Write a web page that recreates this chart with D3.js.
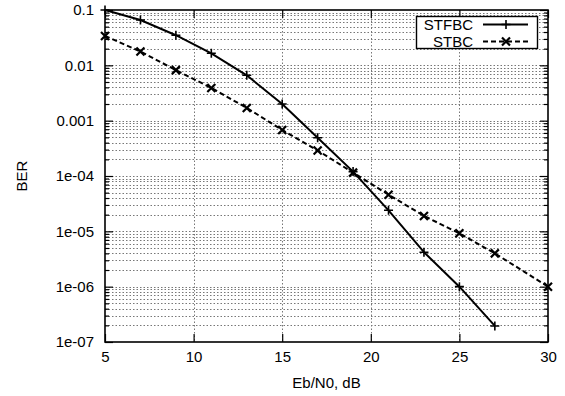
<!DOCTYPE html>
<html>
<head>
<meta charset="utf-8">
<script src="https://cdn.jsdelivr.net/npm/d3@7"></script>
<style>
  body { margin: 0; background: #fff; }
  svg { display: block; font-family: "Liberation Sans", Arial, sans-serif; }
</style>
</head>
<body>
<div id="chart"></div>
<script>
// données
const ebn0 = [5, 7, 9, 11, 13, 15, 17, 19, 21, 23, 25, 27];
const berSTFBC = [0.1, 0.066, 0.035, 0.0165, 0.0066, 0.002, 4.9e-4, 1.2e-4, 2.4e-5, 4.2e-6, 1.0e-6, 1.95e-7];
const ebn0STBC = [5, 7, 9, 11, 13, 15, 17, 19, 21, 23, 25, 27, 30];
const berSTBC = [0.034, 0.0178, 0.0082, 0.0039, 0.0017, 6.8e-4, 2.9e-4, 1.15e-4, 4.6e-5, 1.9e-5, 9.2e-6, 4.0e-6, 1.0e-6];

const xTicks = [5, 10, 15, 20, 25, 30];
const yTicks = [1e-7, 1e-6, 1e-5, 1e-4, 1e-3, 1e-2, 1e-1];
const yTickLabels = ["1e-07", "1e-06", "1e-05", "1e-04", "0.001", "0.01", "0.1"];
const seriesNames = ["STFBC", "STBC"];

//---------------------------------------------------------------------------------------

const width = 565;
const height = 396;
const margin = {top: 10, right: 17, bottom: 54, left: 105};

const svg = d3.select("#chart")
    .append("svg")
    .attr("width", width)
    .attr("height", height);

const plotW = width - margin.left - margin.right;
const plotH = height - margin.top - margin.bottom;

const g = svg.append("g")
    .attr("transform", `translate(${margin.left}, ${margin.top})`);

// échelles
const scaleX = d3.scaleLinear().domain([5, 30]).range([0, plotW]);
const scaleY = d3.scaleLog().domain([1e-7, 0.1]).range([plotH, 0]);

// ticks mineurs de l'axe log
const minorY = [];
yTicks.slice(0, -1).forEach(t => {
    for (let k = 2; k <= 9; k++) minorY.push(t * k);
});

//---------------------------------------------------------------------------------------

// grille
const gridStyle = sel => sel
    .attr("stroke", "#777")
    .attr("stroke-width", 1)
    .attr("stroke-dasharray", "1.5,2");

g.append("g").selectAll("line")
    .data(yTicks.concat(minorY).filter(v => v > 1e-7 && v < 0.1))
    .join("line")
    .attr("x1", 0).attr("x2", plotW)
    .attr("y1", d => Math.round(scaleY(d)) + 0.5)
    .attr("y2", d => Math.round(scaleY(d)) + 0.5)
    .call(gridStyle);

g.append("g").selectAll("line")
    .data(xTicks.slice(1, -1))
    .join("line")
    .attr("x1", d => Math.round(scaleX(d)) + 0.5)
    .attr("x2", d => Math.round(scaleX(d)) + 0.5)
    .attr("y1", 0).attr("y2", plotH)
    .call(gridStyle);

//---------------------------------------------------------------------------------------

// axes (ticks vers l'intérieur, reproduits en miroir)
const major = 8, minor = 4;

const axB = g.append("g")
    .attr("transform", `translate(0, ${plotH})`)
    .call(d3.axisBottom(scaleX).tickValues(xTicks).tickSize(-major).tickPadding(9).tickSizeOuter(0));
const axT = g.append("g")
    .call(d3.axisTop(scaleX).tickValues(xTicks).tickSize(-major).tickFormat("").tickSizeOuter(0));
const axL = g.append("g")
    .call(d3.axisLeft(scaleY).tickValues(yTicks).tickSize(-major).tickPadding(11)
        .tickFormat((d, i) => yTickLabels[i]).tickSizeOuter(0));
const axR = g.append("g")
    .attr("transform", `translate(${plotW}, 0)`)
    .call(d3.axisRight(scaleY).tickValues(yTicks).tickSize(-major).tickFormat("").tickSizeOuter(0));
const axLm = g.append("g")
    .call(d3.axisLeft(scaleY).tickValues(minorY).tickSize(-minor).tickFormat("").tickSizeOuter(0));
const axRm = g.append("g")
    .attr("transform", `translate(${plotW}, 0)`)
    .call(d3.axisRight(scaleY).tickValues(minorY).tickSize(-minor).tickFormat("").tickSizeOuter(0));

[axB, axT, axL, axR, axLm, axRm].forEach(a => {
    a.select(".domain").remove();
    a.selectAll("line").attr("stroke", "#000").attr("stroke-width", 1.2);
    a.selectAll("text").attr("font-size", "15px").attr("fill", "#000")
        .attr("font-family", "Liberation Sans, Arial, sans-serif");
});

// cadre
g.append("rect")
    .attr("x", 0).attr("y", 0)
    .attr("width", plotW).attr("height", plotH)
    .attr("fill", "none")
    .attr("stroke", "#000")
    .attr("stroke-width", 1.6);

//---------------------------------------------------------------------------------------

// courbes
const line = d3.line().x(d => scaleX(d[0])).y(d => scaleY(d[1]));

const dataSTFBC = ebn0.map((x, i) => [x, berSTFBC[i]]);
const dataSTBC = ebn0STBC.map((x, i) => [x, berSTBC[i]]);

const plus = (sel, s) => sel.append("path")
    .attr("d", `M${-s},0H${s}M0,${-s}V${s}`)
    .attr("stroke", "#000").attr("stroke-width", 1.6).attr("fill", "none");
const cross = (sel, s) => sel.append("path")
    .attr("d", `M${-s},${-s}L${s},${s}M${-s},${s}L${s},${-s}`)
    .attr("stroke", "#000").attr("stroke-width", 2.2).attr("fill", "none");

g.append("path")
    .datum(dataSTFBC)
    .attr("d", line)
    .attr("fill", "none")
    .attr("stroke", "#000")
    .attr("stroke-width", 2);

g.append("path")
    .datum(dataSTBC)
    .attr("d", line)
    .attr("fill", "none")
    .attr("stroke", "#000")
    .attr("stroke-width", 2)
    .attr("stroke-dasharray", "5,3");

g.append("g").selectAll("g")
    .data(dataSTFBC)
    .join("g")
    .attr("transform", d => `translate(${scaleX(d[0])}, ${scaleY(d[1])})`)
    .each(function () { plus(d3.select(this), 4.5); });

g.append("g").selectAll("g")
    .data(dataSTBC)
    .join("g")
    .attr("transform", d => `translate(${scaleX(d[0])}, ${scaleY(d[1])})`)
    .each(function () { cross(d3.select(this), 4); });

//---------------------------------------------------------------------------------------

// légende
const leg = svg.append("g").attr("transform", "translate(416, 16)");

leg.append("rect")
    .attr("x", 0.5).attr("y", 0.5)
    .attr("width", 121).attr("height", 32)
    .attr("fill", "#fff")
    .attr("stroke", "#000")
    .attr("stroke-width", 1.4);

seriesNames.forEach((name, i) => {
    const yy = 8.5 + i * 17;
    leg.append("text")
        .attr("x", 57).attr("y", yy)
        .attr("dy", "0.35em")
        .attr("text-anchor", "end")
        .attr("font-size", "15px")
        .text(name);
    leg.append("line")
        .attr("x1", 67).attr("x2", 112)
        .attr("y1", yy).attr("y2", yy)
        .attr("stroke", "#000")
        .attr("stroke-width", 2)
        .attr("stroke-dasharray", i === 0 ? null : "5,3");
    const m = leg.append("g").attr("transform", `translate(90, ${yy})`);
    if (i === 0) plus(m, 4.5); else cross(m, 4);
});

//---------------------------------------------------------------------------------------

// titres d'axes
svg.append("text")
    .attr("x", margin.left + plotW / 2)
    .attr("y", 388)
    .attr("text-anchor", "middle")
    .attr("font-size", "15px")
    .text("Eb/N0, dB");

svg.append("text")
    .attr("transform", `translate(27, ${margin.top + plotH / 2}) rotate(-90)`)
    .attr("text-anchor", "middle")
    .attr("font-size", "15px")
    .text("BER");
</script>
</body>
</html>
